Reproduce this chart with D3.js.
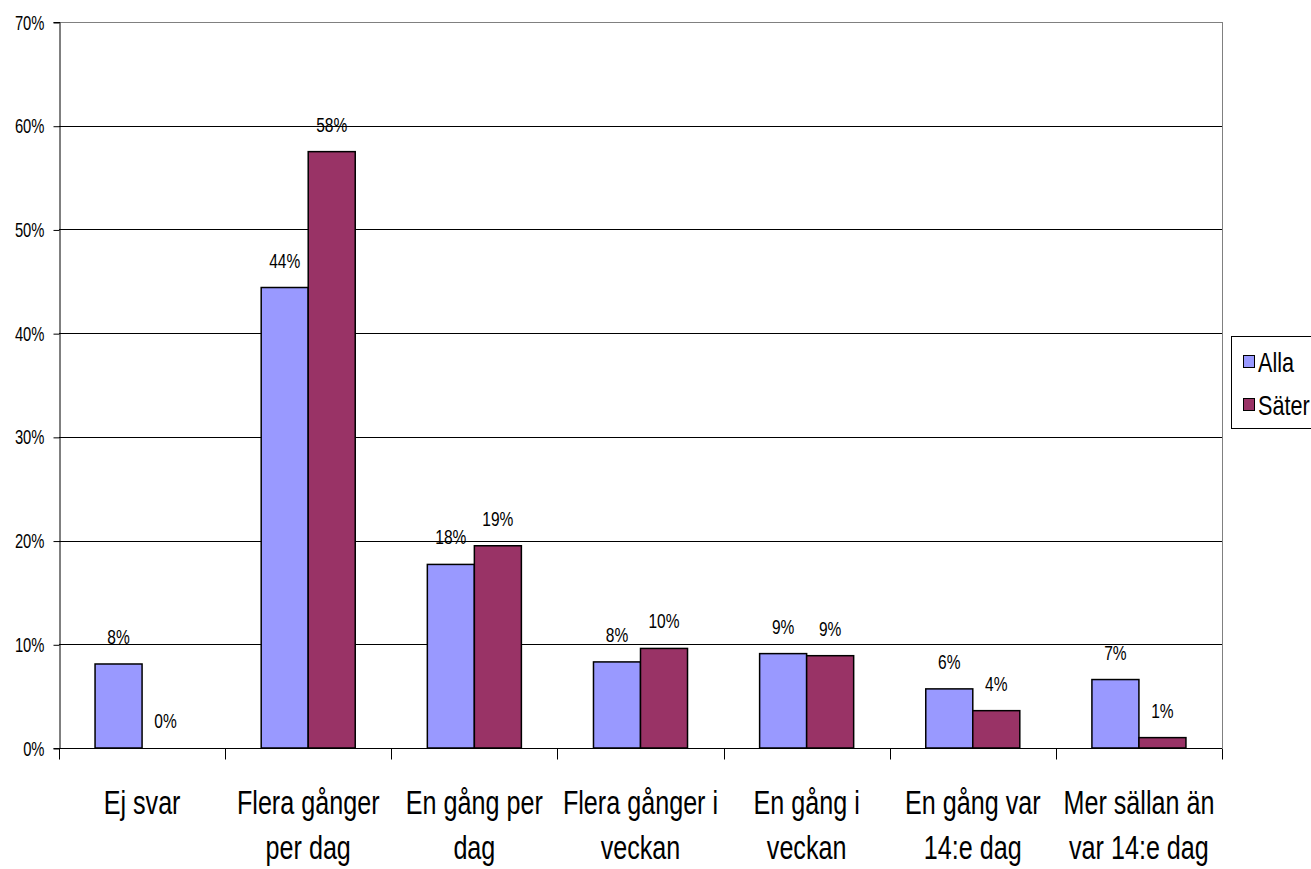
<!DOCTYPE html>
<html>
<head>
<meta charset="utf-8">
<script src="https://cdn.jsdelivr.net/npm/d3@7"></script>
<style>
  body { margin: 0; background: #fff; }
  svg { display: block; font-family: "Liberation Sans", Arial, sans-serif; }
</style>
</head>
<body>
<script>
var kategorier = [["Ej svar"], ["Flera gånger", "per dag"], ["En gång per", "dag"], ["Flera gånger i", "veckan"], ["En gång i", "veckan"], ["En gång var", "14:e dag"], ["Mer sällan än", "var 14:e dag"]];
var serier = ["Alla", "Säter"];
var alla = [8.1, 44.4, 17.7, 8.3, 9.1, 5.7, 6.6];
var sater = [0, 57.5, 19.5, 9.6, 8.9, 3.6, 1.0];
var etiketterAlla = ["8%", "44%", "18%", "8%", "9%", "6%", "7%"];
var etiketterSater = ["0%", "58%", "19%", "10%", "9%", "4%", "1%"];
var yTicks = [0, 10, 20, 30, 40, 50, 60, 70];
var farger = ["#9999ff", "#993366"];

var W = 1311, H = 869;
var pl = 59, pr = 1222, pt = 22, pb = 748;
var smal = 0.74; // texten är hoptryckt i originalet

var svg = d3.select("body").append("svg").attr("width", W).attr("height", H);

var x = d3.scaleBand().domain(d3.range(kategorier.length)).range([pl, pr]);
var y = d3.scaleLinear().domain([0, 70]).range([pb, pt]);
var barW = x.bandwidth() * 0.283;

// stödlinjer
svg.append("g").selectAll("line").data(yTicks.slice(1))
  .enter().append("line")
  .attr("x1", pl).attr("x2", pr)
  .attr("y1", function(d){ return Math.round(y(d)) + 0.5; }).attr("y2", function(d){ return Math.round(y(d)) + 0.5; })
  .attr("stroke", function(d){ return d == 70 ? "#808080" : "#000"; })
  .attr("stroke-width", 1);

// höger kant
svg.append("line").attr("x1", pr + 0.5).attr("x2", pr + 0.5)
  .attr("y1", pt).attr("y2", pb).attr("stroke", "#808080");

// y-axel
var yAxis = d3.axisLeft(y).tickValues(yTicks).tickSize(6).tickFormat(function(d){ return d + "%"; });
var gy = svg.append("g").attr("transform", "translate(" + (pl + 0.5) + ",0)").call(yAxis);
gy.select(".domain").attr("stroke", "#000");
gy.selectAll(".tick line").attr("stroke", "#000").attr("transform", "translate(0,0.5)");
gy.selectAll(".tick text").attr("x", null).attr("dy", null)
  .attr("transform", "translate(-15,7) scale(" + smal + ",1)")
  .attr("font-size", 20).attr("fill", "#000").attr("font-family", "\"Liberation Sans\", Arial, sans-serif");

// x-axel
var gx = svg.append("g").attr("transform", "translate(0," + (pb + 0.5) + ")");
gx.append("line").attr("x1", pl).attr("x2", pr).attr("stroke", "#000");
gx.selectAll(".xt").data(d3.range(kategorier.length + 1)).enter().append("line")
  .attr("x1", function(i){ return Math.round(pl + i * x.step()) + 0.5; })
  .attr("x2", function(i){ return Math.round(pl + i * x.step()) + 0.5; })
  .attr("y1", 0).attr("y2", 11).attr("stroke", "#000");

gx.selectAll(".kat").data(kategorier).enter().append("text")
  .attr("text-anchor", "middle").attr("font-size", 34).attr("fill", "#000")
  .attr("transform", function(d, i){ return "translate(" + (x(i) + x.bandwidth() / 2) + ",0) scale(" + smal + ",1)"; })
  .selectAll("tspan").data(function(d){ return d; }).enter().append("tspan")
  .attr("x", 0).attr("y", function(d, j){ return 66 + j * 45; })
  .text(function(d){ return d; });

// staplar
var data = [alla, sater];
var etiketter = [etiketterAlla, etiketterSater];
data.forEach(function(vals, s){
  svg.append("g").selectAll("rect").data(vals).enter().append("rect")
    .attr("x", function(d, i){ return x(i) + x.bandwidth() / 2 - barW + s * barW; })
    .attr("y", function(d){ return y(d); })
    .attr("width", barW)
    .attr("height", function(d){ return pb - y(d); })
    .attr("fill", farger[s])
    .attr("stroke", function(d){ return d > 0 ? "#000" : "none"; })
    .attr("stroke-width", 1.5);

  svg.append("g").selectAll("text").data(vals).enter().append("text")
    .attr("transform", function(d, i){
      return "translate(" + (x(i) + x.bandwidth() / 2 - barW / 2 + s * barW) + "," + (y(d) - 20) + ") scale(" + smal + ",1)";
    })
    .attr("text-anchor", "middle").attr("font-size", 21).attr("fill", "#000")
    .text(function(d, i){ return etiketter[s][i]; });
});

// förklaring
var leg = svg.append("g").attr("transform", "translate(1231,336)");
leg.append("rect").attr("x", 0.5).attr("y", 0.5).attr("width", 120).attr("height", 92)
  .attr("fill", "#fff").attr("stroke", "#000");
serier.forEach(function(n, i){
  leg.append("rect").attr("x", 12.5).attr("y", 19.5 + i * 43).attr("width", 11).attr("height", 12)
    .attr("fill", farger[i]).attr("stroke", "#000");
  leg.append("text").attr("transform", "translate(27," + (36 + i * 43) + ") scale(0.8,1)")
    .attr("font-size", 27).attr("fill", "#000").text(n);
});
</script>
</body>
</html>
